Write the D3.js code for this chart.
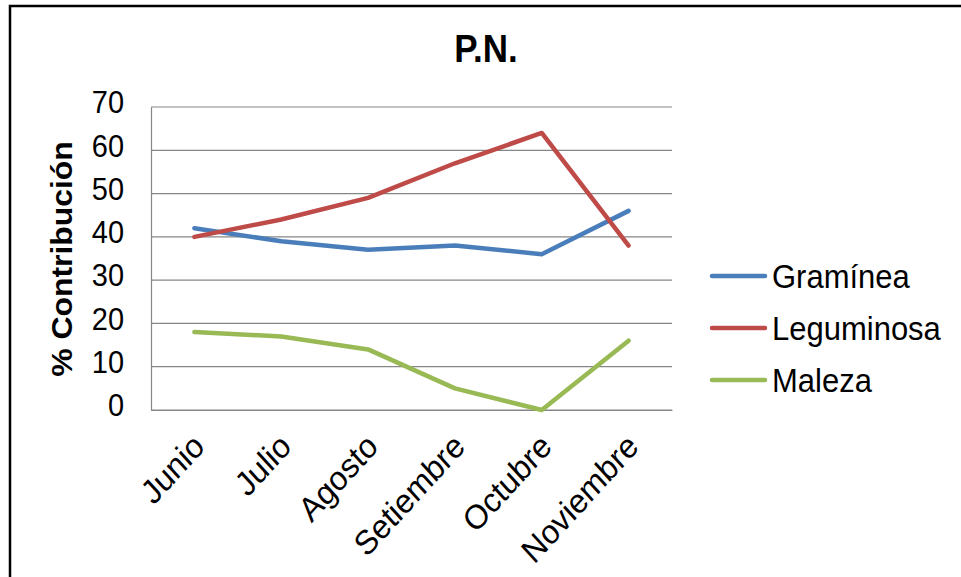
<!DOCTYPE html>
<html>
<head>
<meta charset="utf-8">
<script src="https://cdn.jsdelivr.net/npm/d3@7"></script>
<style>
  html, body { margin: 0; padding: 0; background: #fff; }
  svg { display: block; font-family: "Liberation Sans", Arial, sans-serif; }
</style>
</head>
<body>
<svg id="chart" width="961" height="577"></svg>
<script>
// Meses del periodo evaluado
const categories = ["Junio", "Julio", "Agosto", "Setiembre", "Octubre", "Noviembre"];

// % de contribución de cada componente
const graminea   = [42, 39, 37, 38, 36, 46];
const leguminosa = [40, 44, 49, 57, 64, 38];
const maleza     = [18, 17, 14, 5, 0, 16];

const seriesNames = ["Gramínea", "Leguminosa", "Maleza"];
const yTicks = [0, 10, 20, 30, 40, 50, 60, 70];

const seriesColors = ["#4A7EBB", "#BE4B48", "#98B954"];
const seriesData = [graminea, leguminosa, maleza];

// Los textos se dibujan algo más altos que anchos
const stretch = 1.1;

const svg = d3.select("#chart");

// Marco exterior del gráfico
svg.append("rect")
  .attr("x", 10).attr("y", 6)
  .attr("width", 980).attr("height", 600)
  .attr("fill", "#fff")
  .attr("stroke", "#000")
  .attr("stroke-width", 2.5);

const plot = { left: 151, right: 672, top: 107, bottom: 410 };

const x = d3.scaleBand()
  .domain(categories)
  .range([plot.left, plot.right]);

const y = d3.scaleLinear()
  .domain([0, 70])
  .range([plot.bottom, plot.top]);

// Líneas de cuadrícula horizontales
svg.append("g")
  .selectAll("line")
  .data(yTicks)
  .join("line")
  .attr("x1", plot.left).attr("x2", plot.right)
  .attr("y1", d => y(d)).attr("y2", d => y(d))
  .attr("stroke", "#868686")
  .attr("stroke-width", 1.2);

// Eje vertical
const yAxis = svg.append("g")
  .attr("transform", `translate(${plot.left},0)`)
  .call(d3.axisLeft(y).tickValues(yTicks).tickSize(0).tickPadding(27));
yAxis.select(".domain").attr("stroke", "#868686").attr("stroke-width", 1.2);
yAxis.selectAll("text")
  .attr("font-size", 29)
  .attr("fill", "#000")
  .attr("font-family", "Liberation Sans, Arial, sans-serif")
  .attr("dy", "0.18em")
  .attr("transform", `scale(1,${stretch})`);

// Eje horizontal con etiquetas inclinadas
const xAxis = svg.append("g")
  .attr("transform", `translate(0,${plot.bottom})`)
  .call(d3.axisBottom(x).tickSize(0).tickFormat(d => d));
xAxis.select(".domain").attr("stroke", "#868686").attr("stroke-width", 1.2);
xAxis.selectAll("text")
  .attr("font-size", 31)
  .attr("fill", "#000")
  .attr("font-family", "Liberation Sans, Arial, sans-serif")
  .attr("text-anchor", "end")
  .attr("x", 0).attr("y", 0).attr("dy", "0.35em")
  .attr("transform", `translate(4,30) scale(1,${stretch}) rotate(-45)`);

// Series
const line = d3.line()
  .x((d, i) => x(categories[i]) + x.bandwidth() / 2)
  .y(d => y(d));

svg.append("g")
  .selectAll("path")
  .data(seriesData)
  .join("path")
  .attr("d", d => line(d))
  .attr("fill", "none")
  .attr("stroke", (d, i) => seriesColors[i])
  .attr("stroke-width", 4.5)
  .attr("stroke-linejoin", "round")
  .attr("stroke-linecap", "round");

// Título
svg.append("text")
  .attr("transform", `translate(486,62) scale(1,${stretch})`)
  .attr("text-anchor", "middle")
  .attr("font-size", 35)
  .attr("font-weight", "bold")
  .text("P.N.");

// Título del eje Y
svg.append("text")
  .attr("transform", `translate(72,259) scale(1,${stretch}) rotate(-90)`)
  .attr("text-anchor", "middle")
  .attr("font-size", 29)
  .attr("font-weight", "bold")
  .text("% Contribución");

// Leyenda
const legend = svg.append("g")
  .selectAll("g")
  .data(seriesNames)
  .join("g")
  .attr("transform", (d, i) => `translate(712,${276 + i * 52})`);

legend.append("line")
  .attr("x1", 0).attr("x2", 53)
  .attr("stroke", (d, i) => seriesColors[i])
  .attr("stroke-width", 4.5)
  .attr("stroke-linecap", "round");

legend.append("text")
  .attr("transform", `translate(60,0) scale(1,${stretch})`)
  .attr("dy", "0.35em")
  .attr("font-size", 31)
  .text(d => d);
</script>
</body>
</html>
